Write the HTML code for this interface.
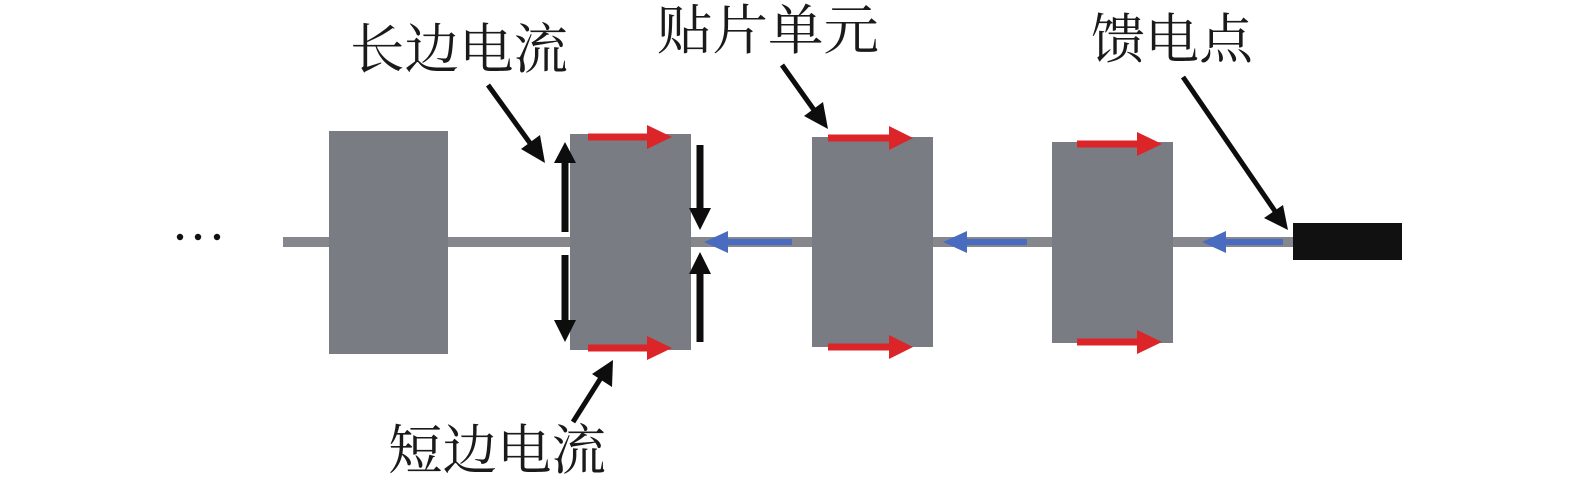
<!DOCTYPE html>
<html><head><meta charset="utf-8"><style>
html,body{margin:0;padding:0;background:#fff;}
svg{display:block;}
text{font-family:"Liberation Serif","Noto Serif CJK SC","Noto Sans CJK SC",serif;font-size:54px;fill:#1a1a1a;}
</style></head><body>
<svg width="1575" height="484" viewBox="0 0 1575 484" xmlns="http://www.w3.org/2000/svg">
<rect width="1575" height="484" fill="#fff"/>
<!-- ellipsis -->
<circle cx="180" cy="237" r="3.2" fill="#111"/>
<circle cx="198" cy="237" r="3.2" fill="#111"/>
<circle cx="217" cy="237" r="3.2" fill="#111"/>
<!-- feed line -->
<rect x="283" y="237" width="1012" height="10" fill="#85878c"/>
<!-- patches -->
<rect x="329" y="131" width="119" height="223" fill="#797c83"/>
<rect x="570" y="134" width="121" height="216" fill="#797c83"/>
<rect x="812" y="137" width="121" height="210" fill="#797c83"/>
<rect x="1052" y="142" width="121" height="201" fill="#797c83"/>
<!-- feed point -->
<rect x="1293" y="223" width="109" height="37" fill="#111"/>

<!-- red arrows -->
<g fill="#dc2528">
<rect x="588" y="133.5" width="62" height="7"/><polygon points="672,137 647,125 647,149"/>
<rect x="588" y="344.5" width="62" height="7"/><polygon points="672,348 647,336 647,360"/>
<rect x="828" y="134.5" width="64" height="7"/><polygon points="913,138 889,126 889,150"/>
<rect x="828" y="343.5" width="64" height="7"/><polygon points="913,347 889,335 889,359"/>
<rect x="1077" y="140.5" width="62" height="7"/><polygon points="1162,144 1137,132 1137,156"/>
<rect x="1077" y="338.5" width="62" height="7"/><polygon points="1162,342 1137,330 1137,354"/>
</g>

<!-- blue arrows -->
<g fill="#4a6cc0">
<rect x="722" y="239" width="70" height="6"/><polygon points="704,242 728,231 728,253"/>
<rect x="962" y="239" width="65" height="6"/><polygon points="943,242 967,231 967,253"/>
<rect x="1220" y="239" width="63" height="6"/><polygon points="1202,242 1226,231 1226,253"/>
</g>

<!-- black vertical arrows -->
<g fill="#0d0d0d">
<rect x="561.5" y="160" width="7" height="72"/><polygon points="565,142 554,163 576,163"/>
<rect x="561.5" y="255" width="7" height="68"/><polygon points="565,342 554,320 576,320"/>
<rect x="696.5" y="145" width="7" height="66"/><polygon points="700,230 689,208 711,208"/>
<rect x="696.5" y="271" width="7" height="71"/><polygon points="700,252 689,274 711,274"/>
</g>

<!-- label pointer arrows -->
<g stroke="#0d0d0d" stroke-width="5" fill="none">
<line x1="488" y1="85" x2="535" y2="150"/>
<line x1="782" y1="65" x2="819" y2="117"/>
<line x1="1183" y1="77" x2="1279" y2="217"/>
<line x1="573" y1="422" x2="604" y2="373"/>
</g>
<g fill="#0d0d0d">
<!-- head for 长边 arrow: dir (57,78) -->
<polygon points="545,163 521,149 540,135"/>
<!-- 贴片 arrow dir (46,64) -->
<polygon points="828,129 804,116 823,102"/>
<!-- 馈电 arrow dir (105,153) -->
<polygon points="1288,230 1264,218 1283,205"/>
<!-- 短边 arrow dir (40,-62) -->
<polygon points="613,360 612,387 592,374"/>
</g>

<!-- labels -->
<text x="350" y="68" textLength="218" lengthAdjust="spacingAndGlyphs">长边电流</text>
<text x="657" y="49" textLength="222" lengthAdjust="spacingAndGlyphs">贴片单元</text>
<text x="1091" y="58" textLength="162" lengthAdjust="spacingAndGlyphs">馈电点</text>
<text x="388" y="469" textLength="218" lengthAdjust="spacingAndGlyphs">短边电流</text>
</svg>
</body></html>
